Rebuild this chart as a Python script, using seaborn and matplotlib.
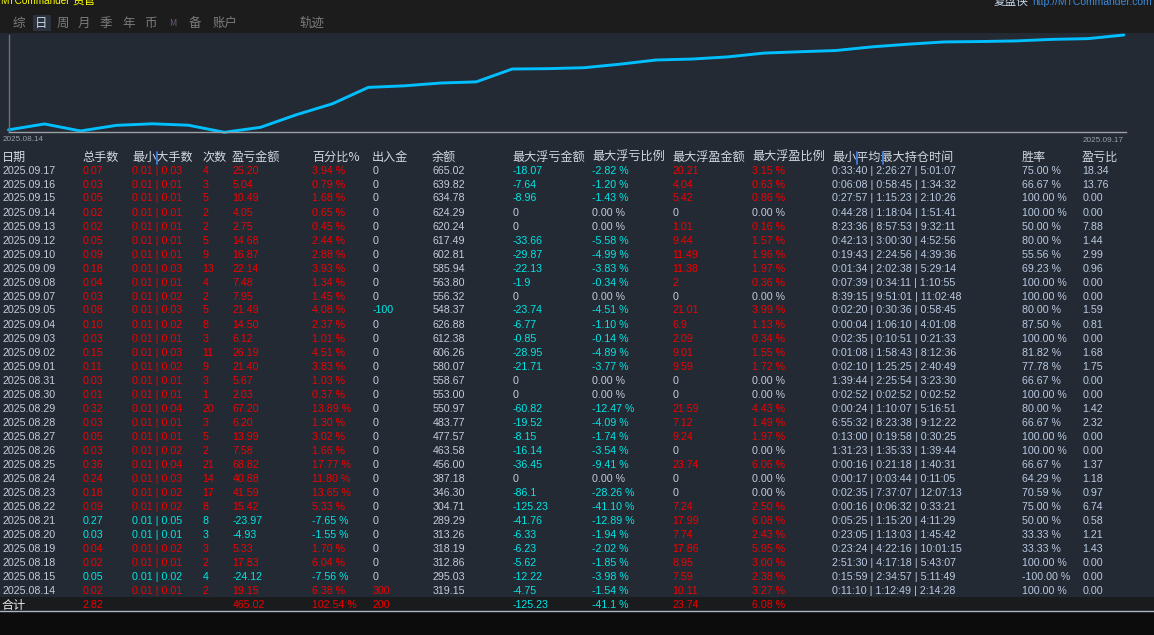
import numpy as np
import pandas as pd
import matplotlib
matplotlib.use("Agg")
import matplotlib.pyplot as plt
import seaborn as sns
from matplotlib.patches import Rectangle
from matplotlib.lines import Line2D

# ---------------- data (table rows, newest first) ----------------
dates = ["2025.09.17", "2025.09.16", "2025.09.15", "2025.09.14", "2025.09.13", "2025.09.12",
         "2025.09.10", "2025.09.09", "2025.09.08", "2025.09.07", "2025.09.05", "2025.09.04",
         "2025.09.03", "2025.09.02", "2025.09.01", "2025.08.31", "2025.08.30", "2025.08.29",
         "2025.08.28", "2025.08.27", "2025.08.26", "2025.08.25", "2025.08.24", "2025.08.23",
         "2025.08.22", "2025.08.21", "2025.08.20", "2025.08.19", "2025.08.18", "2025.08.15",
         "2025.08.14"]
lots_total = [0.07, 0.03, 0.05, 0.02, 0.02, 0.05, 0.09, 0.18, 0.04, 0.03, 0.08, 0.10, 0.03, 0.15,
              0.11, 0.03, 0.01, 0.32, 0.03, 0.05, 0.03, 0.36, 0.24, 0.18, 0.09, 0.27, 0.03, 0.04,
              0.02, 0.05, 0.02]
lots_min = [0.01, 0.01, 0.01, 0.01, 0.01, 0.01, 0.01, 0.01, 0.01, 0.01, 0.01, 0.01, 0.01, 0.01,
            0.01, 0.01, 0.01, 0.01, 0.01, 0.01, 0.01, 0.01, 0.01, 0.01, 0.01, 0.01, 0.01, 0.01,
            0.01, 0.01, 0.01]
lots_max = [0.03, 0.01, 0.01, 0.01, 0.01, 0.01, 0.01, 0.03, 0.01, 0.02, 0.03, 0.02, 0.01, 0.03,
            0.02, 0.01, 0.01, 0.04, 0.01, 0.01, 0.02, 0.04, 0.03, 0.02, 0.02, 0.05, 0.01, 0.02,
            0.01, 0.02, 0.01]
trades = [4, 3, 5, 2, 2, 5, 9, 13, 4, 2, 5, 8, 3, 11, 9, 3, 1, 20, 3, 5, 2, 21, 14, 17, 8, 8, 3,
          3, 2, 4, 2]
profit = [25.20, 5.04, 10.49, 4.05, 2.75, 14.68, 16.87, 22.14, 7.48, 7.95, 21.49, 14.50, 6.12,
          26.19, 21.40, 5.67, 2.03, 67.20, 6.20, 13.99, 7.58, 68.82, 40.88, 41.59, 15.42, -23.97,
          -4.93, 5.33, 17.83, -24.12, 19.15]
pct = [3.94, 0.79, 1.68, 0.65, 0.45, 2.44, 2.88, 3.93, 1.34, 1.45, 4.08, 2.37, 1.01, 4.51, 3.83,
       1.03, 0.37, 13.89, 1.30, 3.02, 1.66, 17.77, 11.80, 13.65, 5.33, -7.65, -1.55, 1.70, 6.04,
       -7.56, 6.38]
cash_flow = [0, 0, 0, 0, 0, 0, 0, 0, 0, 0, -100, 0, 0, 0, 0, 0, 0, 0, 0, 0, 0, 0, 0, 0, 0, 0, 0,
             0, 0, 0, 300]
balance = [665.02, 639.82, 634.78, 624.29, 620.24, 617.49, 602.81, 585.94, 563.80, 556.32, 548.37,
           626.88, 612.38, 606.26, 580.07, 558.67, 553.00, 550.97, 483.77, 477.57, 463.58, 456.00,
           387.18, 346.30, 304.71, 289.29, 313.26, 318.19, 312.86, 295.03, 319.15]
float_loss = [-18.07, -7.64, -8.96, 0, 0, -33.66, -29.87, -22.13, -1.9, 0, -23.74, -6.77, -0.85,
              -28.95, -21.71, 0, 0, -60.82, -19.52, -8.15, -16.14, -36.45, 0, -86.1, -125.23,
              -41.76, -6.33, -6.23, -5.62, -12.22, -4.75]
float_loss_pct = [-2.82, -1.20, -1.43, 0.00, 0.00, -5.58, -4.99, -3.83, -0.34, 0.00, -4.51, -1.10,
                  -0.14, -4.89, -3.77, 0.00, 0.00, -12.47, -4.09, -1.74, -3.54, -9.41, 0.00,
                  -28.26, -41.10, -12.89, -1.94, -2.02, -1.85, -3.98, -1.54]
float_gain = [20.21, 4.04, 5.42, 0, 1.01, 9.44, 11.49, 11.38, 2, 0, 21.01, 6.9, 2.09, 9.01, 9.59,
              0, 0, 21.59, 7.12, 9.24, 0, 23.74, 0, 0, 7.24, 17.99, 7.74, 17.86, 8.95, 7.59, 10.11]
float_gain_pct = [3.15, 0.63, 0.86, 0.00, 0.16, 1.57, 1.96, 1.97, 0.36, 0.00, 3.99, 1.13, 0.34,
                  1.55, 1.72, 0.00, 0.00, 4.43, 1.49, 1.97, 0.00, 6.06, 0.00, 0.00, 2.50, 6.08,
                  2.43, 5.95, 3.00, 2.38, 3.27]
hold_min = ["0:33:40", "0:06:08", "0:27:57", "0:44:28", "8:23:36", "0:42:13", "0:19:43", "0:01:34",
            "0:07:39", "8:39:15", "0:02:20", "0:00:04", "0:02:35", "0:01:08", "0:02:10", "1:39:44",
            "0:02:52", "0:00:24", "6:55:32", "0:13:00", "1:31:23", "0:00:16", "0:00:17", "0:02:35",
            "0:00:16", "0:05:25", "0:23:05", "0:23:24", "2:51:30", "0:15:59", "0:11:10"]
hold_avg = ["2:26:27", "0:58:45", "1:15:23", "1:18:04", "8:57:53", "3:00:30", "2:24:56", "2:02:38",
            "0:34:11", "9:51:01", "0:30:36", "1:06:10", "0:10:51", "1:58:43", "1:25:25", "2:25:54",
            "0:02:52", "1:10:07", "8:23:38", "0:19:58", "1:35:33", "0:21:18", "0:03:44", "7:37:07",
            "0:06:32", "1:15:20", "1:13:03", "4:22:16", "4:17:18", "2:34:57", "1:12:49"]
hold_max = ["5:01:07", "1:34:32", "2:10:26", "1:51:41", "9:32:11", "4:52:56", "4:39:36", "5:29:14",
            "1:10:55", "11:02:48", "0:58:45", "4:01:08", "0:21:33", "8:12:36", "2:40:49", "3:23:30",
            "0:02:52", "5:16:51", "9:12:22", "0:30:25", "1:39:44", "1:40:31", "0:11:05", "12:07:13",
            "0:33:21", "4:11:29", "1:45:42", "10:01:15", "5:43:07", "5:11:49", "2:14:28"]
win_rate = [75.00, 66.67, 100.00, 100.00, 50.00, 80.00, 55.56, 69.23, 100.00, 100.00, 80.00, 87.50,
            100.00, 81.82, 77.78, 66.67, 100.00, 80.00, 66.67, 100.00, 100.00, 66.67, 64.29, 70.59,
            75.00, 50.00, 33.33, 33.33, 100.00, -100.00, 100.00]
pl_ratio = [18.34, 13.76, 0.00, 0.00, 7.88, 1.44, 2.99, 0.96, 0.00, 0.00, 1.59, 0.81, 0.00, 1.68,
            1.75, 0.00, 0.00, 1.42, 2.32, 0.00, 0.00, 1.37, 1.18, 0.97, 6.74, 0.58, 1.21, 1.43,
            0.00, 0.00, 0.00]

total_label = "合计"
total_lots = 2.82
total_profit = 465.02
total_pct = 102.54
total_cash = 200
total_float_loss = -125.23
total_float_loss_pct = "-41.1"
total_float_gain = 23.74
total_float_gain_pct = 6.08

headers = ["日期", "总手数", "最小大手数", "次数", "盈亏金额", "百分比%", "出入金", "余额",
           "最大浮亏金额", "最大浮亏比例", "最大浮盈金额", "最大浮盈比例", "最小平均最大持仓时间",
           "胜率", "盈亏比"]
tabs = ["综", "日", "周", "月", "季", "年", "币", "M", "备", "账户", "轨迹"]
chart_start, chart_end = "2025.08.14", "2025.09.17"
brand_latin, brand_cjk = "MTCommander", "资管"
site_name, site_url = "复盘侠", "http://MTCommander.com"

# ---------------- style ----------------
sns.set_theme(style="dark")
FAM = ["Liberation Sans", "Noto Sans CJK SC", "DejaVu Sans"]
CJK = ["Noto Sans CJK SC", "DejaVu Sans"]
plt.rcParams["font.family"] = FAM

W, H = 1154, 635
BG = "#242a33"
TOP = "#1c1c1c"
RED = "#f20000"
CYAN = "#00e6e6"
NEU = "#c3ccd9"
HEAD = "#d2d8e0"

fig = plt.figure(figsize=(W / 100, H / 100), dpi=100)
fig.patch.set_facecolor(BG)


def fx(x):
    return x / W


def fy(y):
    return 1 - y / H


def rect(x0, y0, x1, y1, color, z=0):
    fig.add_artist(Rectangle((fx(x0), fy(y1)), (x1 - x0) / W, (y1 - y0) / H,
                             transform=fig.transFigure, facecolor=color, edgecolor="none",
                             zorder=z))


def txt(x, y, s, color, size=7.7, ha="left", va="center", fam=None, z=3):
    fig.text(fx(x), fy(y), s, color=color, fontsize=size, ha=ha, va=va,
             family=fam or FAM, zorder=z)


def vline(x, y0, y1, color, lw=1.0, z=4):
    fig.add_artist(Line2D([fx(x), fx(x)], [fy(y0), fy(y1)], transform=fig.transFigure,
                          color=color, lw=lw, zorder=z))


# background areas
rect(0, 0, W, 32.5, TOP, z=0)
rect(0, 597, W, 611, "#1a1b1d", z=0)
rect(0, 611.5, W, H, "#0c0c0c", z=0)
fig.add_artist(Line2D([0, 1], [fy(611), fy(611)], transform=fig.transFigure,
                      color="#a9b5c6", lw=1.0, zorder=1))

# header bar (text partly cut off by the top edge, as in the screenshot)
txt(0, 1.5, brand_latin, "#ffff00", size=7.2)
txt(72, 1.5, brand_cjk, "#ffff00", size=8.4, fam=CJK)
txt(1152, 2, site_url, "#3c8ce0", size=7.5, ha="right")
txt(1028, 2, site_name, "#c6d6ee", size=8.4, ha="right", fam=CJK)
tab_x = [18.8, 41.0, 63.3, 84.0, 106.0, 128.5, 150.5, 172.7, 194.7, 225.3, 312.0]
rect(32.7, 15, 50.7, 31, "#2b323d", z=1)
for t, x in zip(tabs, tab_x):
    if t == "日":
        col = "#c8d2e0"
    elif t == "M":
        col = "#6e5a7a"
    else:
        col = "#7c7c7c"
    txt(x, 23.3, t, col, size=9.0 if t != "M" else 6.5, ha="center", fam=CJK)

# ---------------- equity curve (cumulative % by trading day) ----------------
chron_pct = np.array(pct[::-1])
curve = pd.DataFrame({"day": np.arange(len(chron_pct) + 1),
                      "cum": np.concatenate([[0.0], np.cumsum(chron_pct)])})
ax = fig.add_axes([fx(8.5), fy(132.3), (1126 - 8.5) / W, (132.3 - 35) / H])
ax.set_facecolor("none")
sns.lineplot(data=curve, x="day", y="cum", ax=ax, color="#00bfff", linewidth=2.1)
for ln in ax.lines:
    ln.set_clip_on(False)
ax.set_xlim(0, curve["day"].max() + 0.06)
ax.set_ylim(curve["cum"].min(), curve["cum"].max())
ax.set_xticks([])
ax.set_yticks([])
ax.set_xlabel("")
ax.set_ylabel("")
ax.grid(False)
for s in ["top", "right"]:
    ax.spines[s].set_visible(False)
ax.spines["left"].set_color("#6c7076")
ax.spines["bottom"].set_color("#9da1a6")
ax.spines["left"].set_linewidth(1.0)
ax.spines["bottom"].set_linewidth(1.0)
txt(3, 139.5, chart_start, "#9aa0a8", size=5.9)
txt(1124, 140, chart_end, "#9aa0a8", size=5.9, ha="right")

# ---------------- table ----------------
col_x = [2.5, 82.5, 132.5, 202.5, 232.5, 312.5, 372.5, 432.5, 512.5, 592.5, 672.5, 752.5, 832.5,
         1022.5, 1082.5]
HY = 157.5
for h, x in zip(headers, col_x):
    txt(x - 0.5, HY, h, HEAD, size=8.7, fam=CJK)
# blue separators inside the range headers
vline(156.8, 151.5, 163.5, "#3f7fe0", lw=1.3)
vline(856.8, 151.5, 163.5, "#3f7fe0", lw=1.3)
vline(883.3, 151.5, 163.5, "#3f7fe0", lw=1.3)


def gfmt(v):
    return "0" if v == 0 else "%g" % v


ROW0, DY = 170.5, 14.0
for i in range(len(dates)):
    y = ROW0 + i * DY
    main = RED if profit[i] >= 0 else CYAN
    txt(col_x[0], y, dates[i], NEU)
    txt(col_x[1], y, "%.2f" % lots_total[i], main)
    txt(col_x[2], y, "%.2f | %.2f" % (lots_min[i], lots_max[i]), main)
    txt(col_x[3], y, "%d" % trades[i], main)
    txt(col_x[4], y, "%.2f" % profit[i], main)
    txt(col_x[5], y, "%.2f %%" % pct[i], main)
    cf = cash_flow[i]
    txt(col_x[6], y, "%d" % cf, NEU if cf == 0 else (RED if cf > 0 else CYAN))
    txt(col_x[7], y, "%.2f" % balance[i], NEU)
    fl = float_loss[i]
    txt(col_x[8], y, gfmt(fl), NEU if fl == 0 else CYAN)
    txt(col_x[9], y, "%.2f %%" % float_loss_pct[i], NEU if fl == 0 else CYAN)
    fg = float_gain[i]
    txt(col_x[10], y, gfmt(fg), NEU if fg == 0 else RED)
    txt(col_x[11], y, "%.2f %%" % float_gain_pct[i], NEU if fg == 0 else RED)
    txt(col_x[12], y, "%s | %s | %s" % (hold_min[i], hold_avg[i], hold_max[i]), "#b9c9e2")
    txt(col_x[13], y, "%.2f %%" % win_rate[i], "#b9c9e2")
    txt(col_x[14], y, "%.2f" % pl_ratio[i], "#b9c9e2")

TY = 605
txt(col_x[0] - 0.5, TY, total_label, "#e6e6e6", size=8.7, fam=CJK)
txt(col_x[1], TY, "%.2f" % total_lots, RED)
txt(col_x[4], TY, "%.2f" % total_profit, RED)
txt(col_x[5], TY, "%.2f %%" % total_pct, RED)
txt(col_x[6], TY, "%d" % total_cash, RED)
txt(col_x[8], TY, gfmt(total_float_loss), CYAN)
txt(col_x[9], TY, "%s %%" % total_float_loss_pct, CYAN)
txt(col_x[10], TY, gfmt(total_float_gain), RED)
txt(col_x[11], TY, "%.2f %%" % total_float_gain_pct, RED)

fig.savefig("out.png", dpi=100, facecolor=fig.get_facecolor())
